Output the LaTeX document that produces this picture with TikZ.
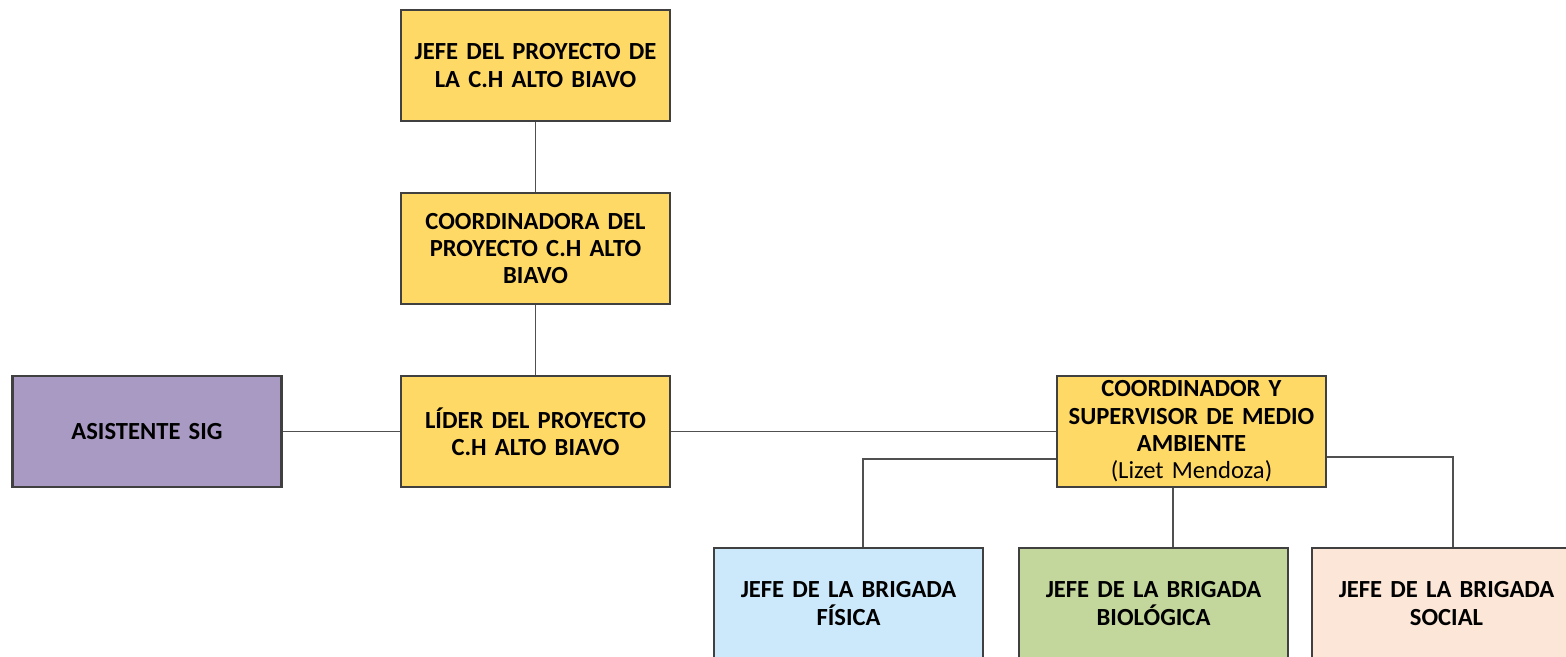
\documentclass[tikz,border=0pt]{standalone}
\usepackage{fontspec}
\setmainfont{Carlito}
\usepackage{tikz}
\usetikzlibrary{positioning}

\definecolor{cargo}{HTML}{FFD966}
\definecolor{asist}{HTML}{A99AC3}
\definecolor{fisica}{HTML}{CCE9FC}
\definecolor{biolo}{HTML}{C3D69B}
\definecolor{social}{HTML}{FCE6D8}
\definecolor{borde}{HTML}{404040}
\definecolor{linea}{HTML}{505050}

\begin{document}
\begin{tikzpicture}[
    font=\fontsize{14}{15.6}\selectfont\bfseries,
    caja/.style={draw=borde, line width=1.2pt, minimum width=5.38cm, minimum height=2.22cm,
        text width=5.3cm, align=center, inner sep=0pt},
    enlace/.style={draw=linea, line width=1pt}
]

    % Frame
    \useasboundingbox (0,0) rectangle (31.32,-13.12);

    % Main chain
    \node[caja, fill=cargo] (jefe) at (10.71,-1.31) {JEFE DEL PROYECTO DE\\LA C.H ALTO BIAVO};
    \node[caja, fill=cargo] (coord) at (10.71,-4.97) {COORDINADORA DEL\\PROYECTO C.H ALTO\\BIAVO};
    \node[caja, fill=cargo] (lider) at (10.71,-8.63) {LÍDER DEL PROYECTO\\C.H ALTO BIAVO};

    % Side boxes
    \node[caja, fill=asist] (asis) at (2.94,-8.63) {ASISTENTE SIG};
    \node[caja, fill=cargo] (sup) at (23.83,-8.63) {COORDINADOR Y\\SUPERVISOR DE MEDIO\\AMBIENTE\\{\mdseries (Lizet Mendoza)}};

    % Brigades (cut by the frame)
    \node[caja, fill=fisica] (fis) at (16.97,-12.07) {JEFE DE LA BRIGADA\\FÍSICA};
    \node[caja, fill=biolo] (bio) at (23.07,-12.07) {JEFE DE LA BRIGADA\\BIOLÓGICA};
    \node[caja, fill=social] (soc) at (28.93,-12.07) {JEFE DE LA BRIGADA\\SOCIAL};

    % Connectors
    \draw[enlace] (jefe) -- (coord);
    \draw[enlace] (coord) -- (lider);
    \draw[enlace] (asis) -- (lider);
    \draw[enlace] (lider) -- (sup);
    \draw[enlace] ([yshift=-0.55cm]sup.west) -| ([xshift=0.29cm]fis.north);
    \draw[enlace] ([xshift=-0.37cm]sup.south) -- ([xshift=-0.37cm]sup.south |- bio.north);
    \draw[enlace] ([yshift=-0.51cm]sup.east) -| ([xshift=0.13cm]soc.north);

\end{tikzpicture}
\end{document}
